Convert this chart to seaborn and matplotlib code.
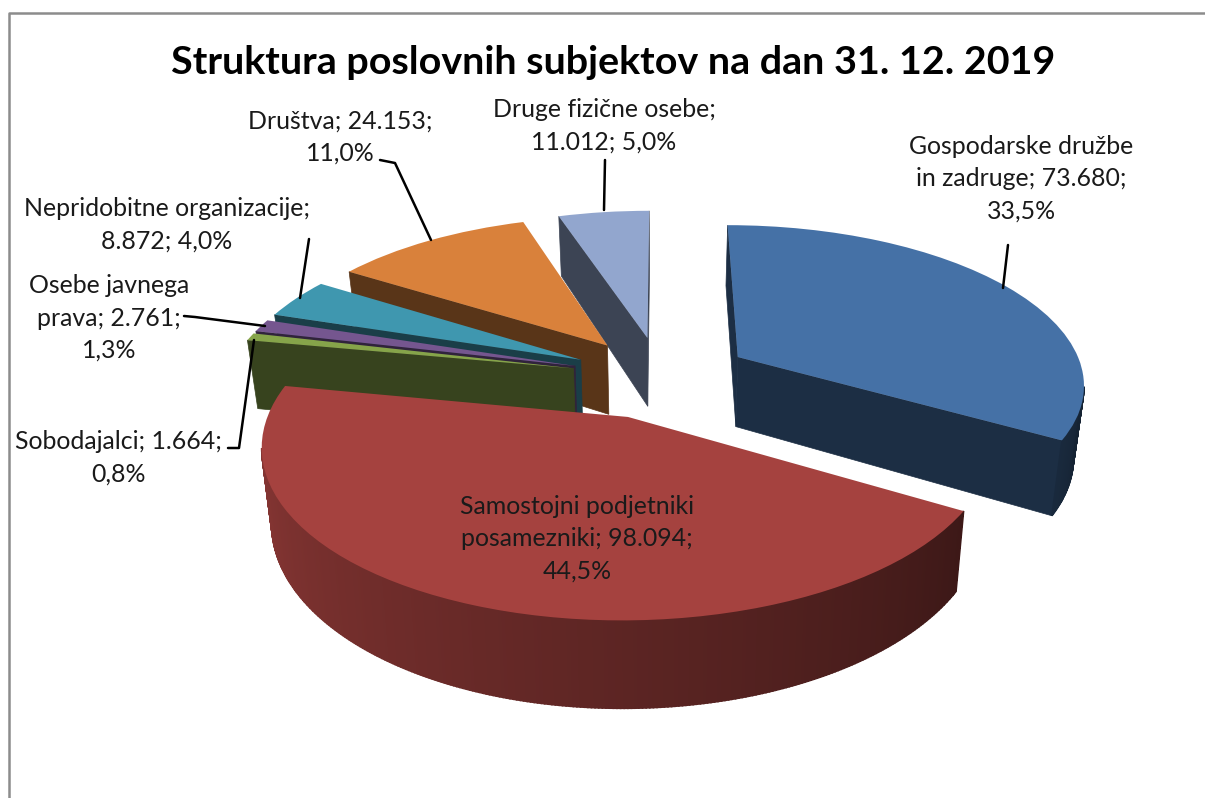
#!/usr/bin/env python3
"""Exploded 3D look pie: struktura poslovnih subjektov, 31. 12. 2019"""
import numpy as np
import matplotlib
matplotlib.use('Agg')
import matplotlib.pyplot as plt
from matplotlib.transforms import Transform
import seaborn as sns

# data
values = [73680, 98094, 1664, 2761, 8872, 24153, 11012]
label_texts = ['Gospodarske družbe\nin zadruge; 73.680;\n33,5%',
               'Samostojni podjetniki\nposamezniki; 98.094;\n44,5%',
               'Sobodajalci; 1.664;\n0,8%',
               'Osebe javnega\nprava; 2.761;\n1,3%',
               'Nepridobitne organizacije;\n8.872; 4,0%',
               'Društva; 24.153;\n11,0%',
               'Druge fizične osebe;\n11.012; 5,0%']
colors = ['#4571A6', '#A5423F', '#86A44A', '#75568F', '#3F97AF', '#D9813B', '#92A6CE']
title = 'Struktura poslovnih subjektov na dan 31. 12. 2019'

# layout, in pixels
label_pos = [(1021, 179), (577, 539), (118, 458), (109, 318), (167, 225), (340, 137), (604, 126)]
leaders = [[(1008, 245), (1003, 288)],
           [(228, 448), (239, 448), (254, 340)],
           [(184, 316), (195, 317), (265, 326)],
           [(309, 239), (300, 298)],
           [(380, 160), (395, 163), (431, 240)],
           [(605, 160), (604, 210)]]
draw_order = [6, 5, 4, 3, 2, 0, 1]   # back to front
CX, CY, RX, RY, PERSP = 661, 377, 347, 158, 0.155
DEPTH = 71

sns.set_theme(style='white')
plt.rcParams['font.family'] = ['Lato', 'DejaVu Sans']


def project(pts):
    pts = np.asarray(pts, dtype=float)
    w = 1 + PERSP * pts[:, 1]
    return np.column_stack([CX + RX * pts[:, 0] / w, CY - RY * pts[:, 1] / w])


def drop(pts):
    # same points on the underside of the slab
    pts = np.asarray(pts, dtype=float)
    w = 1 + PERSP * pts[:, 1]
    s = project(pts)
    return np.column_stack([CX + (s[:, 0] - CX) * 0.975, s[:, 1] + DEPTH / w])


class Perspective(Transform):
    input_dims = 2
    output_dims = 2

    def transform_non_affine(self, values):
        return project(values)


def wall(ax, a, b, color, zorder, lw=0.5):
    q = np.vstack([project([a, b]), drop([a, b])[::-1]])
    ax.fill(q[:, 0], q[:, 1], facecolor=color, edgecolor=color, linewidth=lw, zorder=zorder)


def darker(color, f):
    return tuple(c * f for c in matplotlib.colors.to_rgb(color))


def arc_shade(deg):
    a = deg % 360
    if a < 90:
        return 0.38
    if a < 180:
        return 0.85
    return 0.85 - 0.58 * (a - 180) / 180


fig, ax = plt.subplots(figsize=(12.05, 7.98), dpi=100)
fig.patch.set_facecolor('white')
wedges, _ = ax.pie(values, colors=colors, startangle=90, counterclock=False,
                   explode=[0.26] * len(values), wedgeprops={'linewidth': 0})
ax.set_position([0, 0, 1, 1])
ax.set_aspect('auto')

proj = Perspective()
for z, i in enumerate(draw_order):
    wd = wedges[i]
    c = np.array(wd.center)
    base = z * 10
    angles = np.arange(wd.theta1, wd.theta2 + 1e-6, 0.5)
    if angles[-1] < wd.theta2:
        angles = np.append(angles, wd.theta2)
    rim = c + np.column_stack([np.cos(np.radians(angles)), np.sin(np.radians(angles))])
    # radial faces, only those turned towards the viewer
    for a, b in [(c, rim[0]), (rim[-1], c)]:
        s = project([a, b])
        if s[1, 0] > s[0, 0]:
            wall(ax, a, b, darker(colors[i], 0.41), base)
    # outer rim in strips for the shading
    for k in range(len(angles) - 1):
        s = project(rim[k:k + 2])
        if s[1, 0] > s[0, 0]:
            wall(ax, rim[k], rim[k + 1], darker(colors[i], arc_shade(angles[k])), base + 1, lw=1.2)
    wd.set_transform(proj + ax.transData)
    wd.set_zorder(base + 2)

ax.text(613, 62, title, fontsize=28.4, fontweight='bold', color='black', ha='center', va='center', zorder=200)
for txt, (x, y) in zip(label_texts, label_pos):
    ax.text(x, y, txt, fontsize=17.9, color='#1a1a1a', ha='center', va='center',
            linespacing=1.49, zorder=200)
for line in leaders:
    xs, ys = zip(*line)
    ax.plot(xs, ys, color='black', lw=1.8, zorder=150)

# chart frame
ax.plot([9, 9, 1205], [798, 13, 13], color='#8c8c8c', lw=1.8, zorder=150)

ax.set_xlim(0, 1205)
ax.set_ylim(798, 0)
ax.set_frame_on(False)
fig.savefig('out.png', dpi=100)
